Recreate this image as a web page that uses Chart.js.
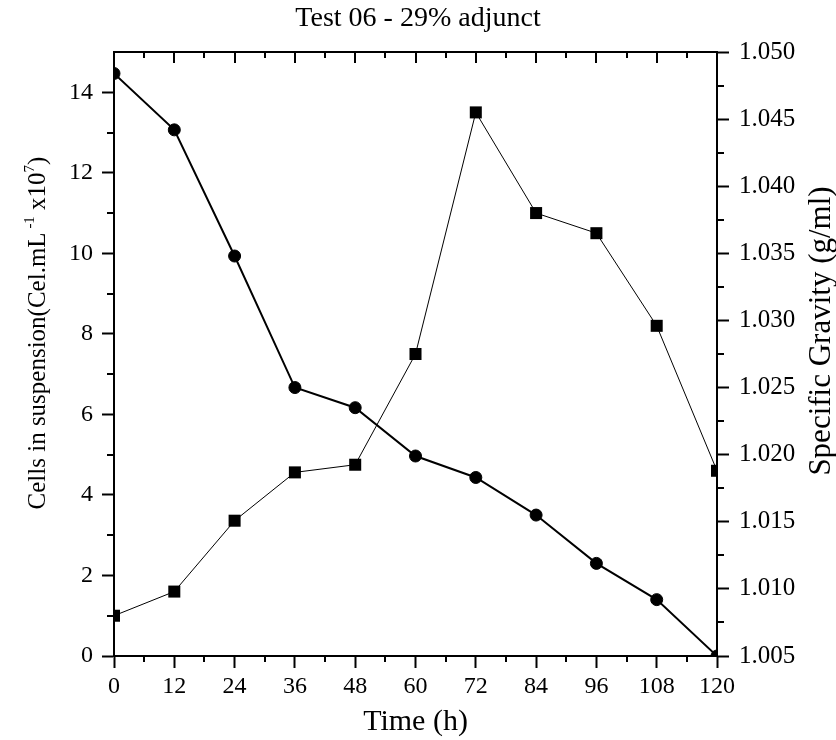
<!DOCTYPE html>
<html>
<head>
<meta charset="utf-8">
<script src="https://cdn.jsdelivr.net/npm/chart.js@4.4.1/dist/chart.umd.min.js"></script>
<style>
  html, body { margin: 0; padding: 0; background: #fff; }
  canvas { display: block; }
</style>
</head>
<body>
<canvas id="fermentChart" width="836" height="740"></canvas>
<script>
// values
var timeHours = [0, 12, 24, 36, 48, 60, 72, 84, 96, 108, 120];
var cellsSuspension = [1.0, 1.6, 3.36, 4.56, 4.75, 7.5, 13.5, 11.0, 10.5, 8.2, 4.6];
var specificGravity = [1.0484, 1.0442, 1.0348, 1.0250, 1.0235, 1.0199, 1.0183, 1.0155, 1.0119, 1.0092, 1.0050];

var xTicks = { min: 0, max: 120, step: 12, minor: 6 };
var cellTicks = { min: 0, max: 15, step: 2, minor: 1 };
var gravityTicks = { min: 1.005, max: 1.050, step: 0.005, minor: 0.0025 };

var serif = "'Liberation Serif', 'Times New Roman', serif";

function points(ys) {
    return timeHours.map(function (t, i) { return { x: t, y: ys[i] }; });
}

// minor ticks, the top frame line and the two rotated y titles
var extrasPlugin = {
    id: 'extras',
    afterDraw: function (chart) {
        var ctx = chart.ctx;
        var a = chart.chartArea;
        var x = chart.scales.x, y = chart.scales.y, y1 = chart.scales.y1;
        var v, px;
        ctx.save();
        ctx.strokeStyle = '#000';
        ctx.lineWidth = 2;
        ctx.beginPath();
        ctx.moveTo(a.left - 1, a.top);
        ctx.lineTo(a.right + 1, a.top);
        for (v = xTicks.min; v <= xTicks.max + 1e-9; v += xTicks.minor) {
            px = Math.round(x.getPixelForValue(v));
            var major = Math.abs(v % xTicks.step) < 1e-9;
            ctx.moveTo(px, a.top);
            ctx.lineTo(px, a.top + (major ? 11 : 6));
            if (!major) {
                ctx.moveTo(px, a.bottom);
                ctx.lineTo(px, a.bottom + 6);
            }
        }
        for (v = cellTicks.min + cellTicks.minor; v < cellTicks.max; v += cellTicks.step) {
            px = Math.round(y.getPixelForValue(v));
            ctx.moveTo(a.left, px);
            ctx.lineTo(a.left - 7, px);
        }
        for (v = gravityTicks.min + gravityTicks.minor; v < gravityTicks.max; v += gravityTicks.step) {
            px = Math.round(y1.getPixelForValue(v));
            ctx.moveTo(a.right, px);
            ctx.lineTo(a.right + 7, px);
        }
        ctx.stroke();
        ctx.restore();

        // left title with superscripts
        var big = 25, small = 15;
        var parts = [
            ['Cells in suspension(Cel.mL', big, 0],
            [' -1', small, -11],
            [' x10', big, 0],
            ['7', small, -11],
            [')', big, 0]
        ];
        ctx.save();
        ctx.fillStyle = '#000';
        ctx.textBaseline = 'alphabetic';
        ctx.textAlign = 'left';
        var total = 0;
        parts.forEach(function (p) {
            ctx.font = p[1] + 'px ' + serif;
            total += ctx.measureText(p[0]).width;
        });
        ctx.translate(45, 333);
        ctx.rotate(-Math.PI / 2);
        var cx = -total / 2;
        parts.forEach(function (p) {
            ctx.font = p[1] + 'px ' + serif;
            ctx.fillText(p[0], cx, p[2]);
            cx += ctx.measureText(p[0]).width;
        });
        ctx.restore();

        // right title, read bottom to top
        ctx.save();
        ctx.fillStyle = '#000';
        ctx.font = '31px ' + serif;
        ctx.textAlign = 'center';
        ctx.textBaseline = 'alphabetic';
        ctx.translate(830, 331);
        ctx.rotate(-Math.PI / 2);
        ctx.fillText('Specific Gravity (g/ml)', 0, 0);
        ctx.restore();
    }
};

var ctx = document.getElementById('fermentChart').getContext('2d');

var fermentChart = new Chart(ctx, {
    type: 'line',
    data: {
        datasets: [{
            label: 'Specific Gravity',
            data: points(specificGravity),
            yAxisID: 'y1',
            borderColor: '#000',
            backgroundColor: '#000',
            borderWidth: 2,
            pointStyle: 'circle',
            pointRadius: 6,
            pointBorderWidth: 1,
            pointBackgroundColor: '#000',
            pointBorderColor: '#000',
            tension: 0
        }, {
            label: 'Cells in suspension',
            data: points(cellsSuspension),
            yAxisID: 'y',
            borderColor: '#000',
            backgroundColor: '#000',
            borderWidth: 1,
            pointStyle: 'rect',
            pointRadius: 8.5,
            pointBorderWidth: 0,
            pointBackgroundColor: '#000',
            tension: 0
        }]
    },
    options: {
        responsive: false,
        animation: false,
        devicePixelRatio: 1,
        layout: { padding: 0 },
        plugins: {
            legend: { display: false },
            tooltip: { enabled: false },
            title: {
                display: true,
                text: 'Test 06 - 29% adjunct',
                color: '#000',
                font: { family: serif, size: 28, weight: 'normal' },
                padding: { top: 2, bottom: 16.4 }
            }
        },
        scales: {
            x: {
                type: 'linear',
                position: 'bottom',
                min: xTicks.min,
                max: xTicks.max,
                afterFit: function (s) { s.height = 84; },
                border: { display: true, color: '#000', width: 2 },
                grid: { drawOnChartArea: false, drawTicks: true, tickLength: 12, tickWidth: 2, tickColor: '#000' },
                ticks: {
                    stepSize: xTicks.step,
                    color: '#000',
                    padding: 4,
                    maxRotation: 0,
                    font: { family: serif, size: 24 }
                },
                title: {
                    display: true,
                    text: 'Time (h)',
                    color: '#000',
                    font: { family: serif, size: 30 },
                    padding: { top: 0, bottom: 0 }
                }
            },
            y: {
                type: 'linear',
                position: 'left',
                min: cellTicks.min,
                max: cellTicks.max,
                afterFit: function (s) { s.width = 114; },
                border: { display: true, color: '#000', width: 2 },
                grid: { drawOnChartArea: false, drawTicks: true, tickLength: 12, tickWidth: 2, tickColor: '#000' },
                ticks: {
                    stepSize: cellTicks.step,
                    includeBounds: false,
                    color: '#000',
                    padding: 9,
                    font: { family: serif, size: 24 }
                }
            },
            y1: {
                type: 'linear',
                position: 'right',
                min: gravityTicks.min,
                max: gravityTicks.max,
                afterFit: function (s) { s.width = 119; },
                border: { display: true, color: '#000', width: 2 },
                grid: { drawOnChartArea: false, drawTicks: true, tickLength: 12, tickWidth: 2, tickColor: '#000' },
                ticks: {
                    stepSize: gravityTicks.step,
                    color: '#000',
                    padding: 10,
                    font: { family: serif, size: 25 },
                    callback: function (v) { return v.toFixed(3); }
                }
            }
        }
    },
    plugins: [extrasPlugin]
});
</script>
</body>
</html>
